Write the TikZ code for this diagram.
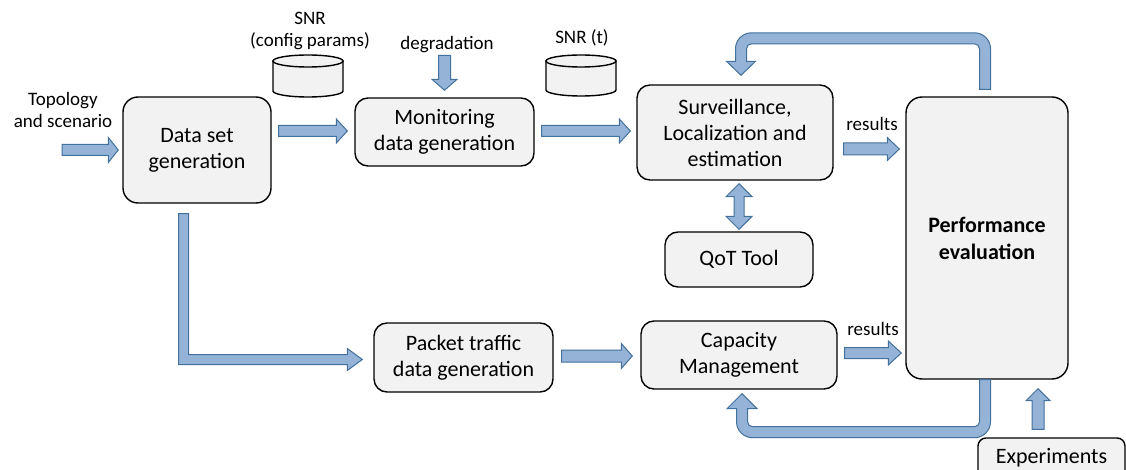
\documentclass[tikz,border=0pt]{standalone}
\usepackage{fontspec}
\setmainfont{Carlito}
\usetikzlibrary{calc}
\definecolor{boxgray}{HTML}{F2F2F2}
\definecolor{arrfill}{HTML}{95B3D7}
\definecolor{arrline}{HTML}{41719C}
\tikzset{
  box/.style={draw=black, line width=1.4pt, fill=boxgray, rounded corners=13pt,
    align=center, inner sep=0pt, font=\fontsize{22}{26}\selectfont},
  lbl/.style={align=center, inner sep=0pt, font=\fontsize{19}{22}\selectfont},
  barrow/.style={fill=arrfill, draw=arrline, line width=1pt, line join=miter},
  cyl/.style={fill=boxgray, draw=black, line width=1.4pt}
}
% horizontal block arrow: from, to, body half, head half, head length
\newcommand\HArr[5]{\path[barrow] let \p1=(#1),\p2=(#2) in
  (\x1,\y1+#3pt) -- (\x2-#5pt,\y1+#3pt) -- (\x2-#5pt,\y1+#4pt) -- (\x2,\y1)
  -- (\x2-#5pt,\y1-#4pt) -- (\x2-#5pt,\y1-#3pt) -- (\x1,\y1-#3pt) -- cycle;}
% vertical block arrow: from, to, body half, head half, signed head offset (canvas)
\newcommand\VArr[5]{\path[barrow] let \p1=(#1),\p2=(#2) in
  (\x1-#3pt,\y1) -- (\x1-#3pt,{\y2+(#5)*1pt}) -- (\x1-#4pt,{\y2+(#5)*1pt}) -- (\x1,\y2)
  -- (\x1+#4pt,{\y2+(#5)*1pt}) -- (\x1+#3pt,{\y2+(#5)*1pt}) -- (\x1+#3pt,\y1) -- cycle;}
% vertical double block arrow: top tip, bottom tip, body half, head half, head length
\newcommand\DArr[5]{\path[barrow] let \p1=(#1),\p2=(#2) in
  (\x1,\y1) -- (\x1+#4pt,\y1-#5pt) -- (\x1+#3pt,\y1-#5pt) -- (\x1+#3pt,\y2+#5pt)
  -- (\x1+#4pt,\y2+#5pt) -- (\x1,\y2) -- (\x1-#4pt,\y2+#5pt) -- (\x1-#3pt,\y2+#5pt)
  -- (\x1-#3pt,\y1-#5pt) -- (\x1-#4pt,\y1-#5pt) -- cycle;}
\begin{document}
\begin{tikzpicture}[x=1pt,y=-1pt]
\clip (0,0) rectangle (1126,470);
\fill[white] (0,0) rectangle (1126,470);

% boxes
\node[box, minimum width=148, minimum height=106, rounded corners=15pt] (ds) at (197,150) {Data set\\generation};
\node[box, minimum width=179, minimum height=68] (mon) at (444.5,132) {Monitoring\\data generation};
\node[box, minimum width=196, minimum height=95] (surv) at (735,132.5) {Surveillance,\\Localization and\\estimation};
\node[box, minimum width=162, minimum height=282, rounded corners=16pt, font=\fontsize{22}{27}\selectfont\bfseries] (perf) at (987,238) {Performance\\evaluation};
\node[box, minimum width=148, minimum height=55] (qot) at (739,259.5) {QoT Tool};
\node[box, minimum width=179, minimum height=69] (pk) at (463.5,357.5) {Packet traffic\\data generation};
\node[box, minimum width=196, minimum height=68] (cap) at (739,355) {Capacity\\Management};
\node[box, minimum width=147, minimum height=40, rounded corners=8pt] (exp) at (1051.5,458) {Experiments};

% labels
\node[lbl] (topo) at (63,110) {Topology\\and scenario};
\node[lbl] (snr1) at (310,31) {SNR\\(config params)};
\node[lbl] (degr) at (447,45) {degradation};
\node[lbl] (snr2) at (582,38) {SNR (t)};
\node[lbl] (res1) at (872,124) {results};
\node[lbl] (res2) at (873,329) {results};

% databases
\path[cyl] (273,61) -- (273,91) arc[start angle=180,end angle=0,x radius=35,y radius=6] -- (343,61) -- cycle;
\path[cyl] (308,61) ellipse[x radius=35,y radius=6];
\path[cyl] (546,61) -- (546,90) arc[start angle=180,end angle=0,x radius=35,y radius=6] -- (616,61) -- cycle;
\path[cyl] (581,61) ellipse[x radius=35,y radius=6];

% straight arrows
\coordinate (topoin) at (62,150);
\HArr{topoin}{$(ds.west)+(-4,0)$}{5.5}{12.5}{10}
\HArr{$(ds.east|-mon.west)+(7,-1)$}{$(mon.west)+(-7,0)$}{5.5}{12}{11}
\VArr{$(mon.north|-degr.south)+(0,2)$}{$(mon.north)+(0,-7)$}{6}{12.5}{11}
\HArr{$(mon.east)+(7,-1)$}{$(surv.west)+(-6,0)$}{5.5}{12}{11}
\HArr{$(surv.east)+(10,16.5)$}{$(perf.west)+(-6,0)$}{6}{11.5}{12}
\HArr{$(pk.east)+(8,-1.5)$}{$(cap.west)+(-8,0)$}{6}{12.5}{11}
\HArr{$(cap.east)+(7,-2)$}{$(perf.west)+(-4,0)$}{5.5}{12}{13}
\VArr{$(exp.north)+(-13.5,-8)$}{$(perf.south)+(0,9)$}{6}{12}{-12}
\DArr{$(surv.south)+(4,3)$}{$(qot.north)+(0,-2)$}{5}{13}{13}

% L-shaped arrow from data set to packet traffic
\path[barrow] let \p1=($(ds.south)+(-13.5,10)$), \p2=($(pk.west)+(-11,2)$) in
  (\x1-5pt,\y1) -- (\x1-5pt,\y2-5pt) -- (\x2-15pt,\y2-5pt) -- (\x2-15pt,\y2-11pt)
  -- (\x2,\y2) -- (\x2-15pt,\y2+11pt) -- (\x2-15pt,\y2+5pt) -- (\x1+5pt,\y2+5pt)
  -- (\x1+5pt,\y1) -- cycle;

% top feedback arrow
\path[barrow] let \p1=($(perf.north)+(-2,-7)$), \p2=($(surv.north)+(6,-9)$) in
  (\x1+5.5pt,\y1) -- (\x1+5.5pt,\y2+26.5pt) arc[start angle=0,end angle=90,radius=16pt]
  -- (\x2+10.5pt,\y2+42.5pt) arc[start angle=90,end angle=180,radius=16pt]
  -- (\x2-5.5pt,\y2+14pt) -- (\x2-14.5pt,\y2+14pt) -- (\x2,\y2) -- (\x2+14.5pt,\y2+14pt)
  -- (\x2+5.5pt,\y2+14pt) -- (\x2+5.5pt,\y2+26.5pt) arc[start angle=180,end angle=90,radius=5pt]
  -- (\x1-10.5pt,\y2+31.5pt) arc[start angle=90,end angle=0,radius=5pt]
  -- (\x1-5.5pt,\y1) -- cycle;

% bottom feedback arrow
\path[barrow] let \p1=($(perf.south)+(-2,0)$), \p2=($(cap.south)+(3,4)$) in
  (\x1+5.5pt,\y1) -- (\x1+5.5pt,\y2-28pt) arc[start angle=0,end angle=-90,radius=16pt]
  -- (\x2+10.5pt,\y2-44pt) arc[start angle=270,end angle=180,radius=16pt]
  -- (\x2-5.5pt,\y2-15pt) -- (\x2-15pt,\y2-15pt) -- (\x2,\y2) -- (\x2+15pt,\y2-15pt)
  -- (\x2+5.5pt,\y2-15pt) -- (\x2+5.5pt,\y2-28pt) arc[start angle=180,end angle=270,radius=5pt]
  -- (\x1-10.5pt,\y2-33pt) arc[start angle=-90,end angle=0,radius=5pt]
  -- (\x1-5.5pt,\y1) -- cycle;
\end{tikzpicture}
\end{document}
